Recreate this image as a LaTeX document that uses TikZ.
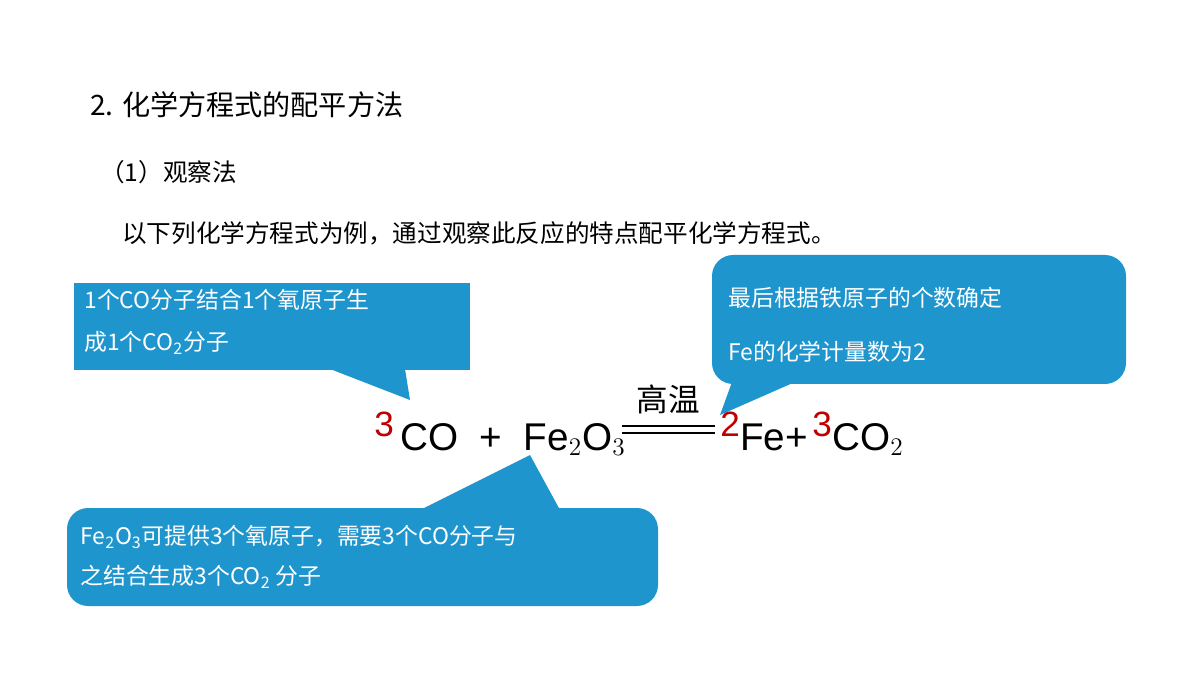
\documentclass[tikz,border=0pt]{standalone}
\usepackage{fontspec}
\setmainfont{Liberation Sans}
\newfontfamily\cjk{Noto Sans CJK SC}
\usetikzlibrary{positioning}
\definecolor{callblue}{RGB}{31,149,206}
\definecolor{numred}{RGB}{192,0,0}
\tikzset{
  txt/.style={anchor=west, inner sep=0pt, font=\cjk\fontsize{14}{16}\selectfont},
  calltxt/.style={txt, text=white, font=\cjk\fontsize{13}{15}\selectfont},
  eq/.style={anchor=base west, inner sep=0pt, font=\fontsize{22}{24}\selectfont},
  red/.style={eq, text=numred, font=\fontsize{20}{22}\selectfont}
}
\begin{document}
\begin{tikzpicture}[x=0.02cm,y=-0.02cm]
  \useasboundingbox (0,0) rectangle (1200,675);

  \node[txt, font=\cjk\fontsize{16}{18}\selectfont] (title) at (90,105) {2. 化学方程式的配平方法};
  \node[txt] (sub) at (100,172) {（1）观察法};
  \node[txt] (intro) at (122,233) {以下列化学方程式为例，通过观察此反应的特点配平化学方程式。};

  % callout boxes
  \fill[callblue] (74,283) rectangle (470,370);
  \fill[callblue] (330,369) -- (410,400) -- (405,369) -- cycle;
  \fill[callblue, rounded corners=12pt] (712,255) rectangle (1126,384);
  \fill[callblue] (732,382) -- (720,415) -- (795,382) -- cycle;
  \fill[callblue, rounded corners=12pt] (67,508) rectangle (658,606);
  \fill[callblue] (420,510) -- (530,455) -- (560,510) -- cycle;

  \node[calltxt] (c1a) at (84,300) {1个CO分子结合1个氧原子生};
  \node[calltxt] (c1b) at (84,343) {成1个CO\textsubscript{2}分子};
  \node[calltxt] (c2a) at (728,298) {最后根据铁原子的个数确定};
  \node[calltxt] (c2b) at (728,352) {Fe的化学计量数为2};
  \node[calltxt] (c3a) at (80,537) {Fe\textsubscript{2}O\textsubscript{3}可提供3个氧原子，需要3个CO分子与};
  \node[calltxt] (c3b) at (80,577) {之结合生成3个CO\textsubscript{2} 分子};

  % equation
  \node[red] (n3) at (374,437) {3};
  \node[eq] (lhs) at (400,450) {CO \ + \ Fe$_2$O$_3$};
  \draw[line width=1.2pt] (622,426) -- (715,426) (622,433) -- (715,433);
  \node[anchor=base, inner sep=0pt, font=\cjk\fontsize{18}{20}\selectfont] (cond) at (668,412) {高温};
  \node[red] (n2) at (720,437) {2};
  \node[eq] (fe) at (740,450) {Fe+};
  \node[red] (n3b) at (812,437) {3};
  \node[eq] (co2) at (832,450) {CO$_2$};
\end{tikzpicture}
\end{document}
